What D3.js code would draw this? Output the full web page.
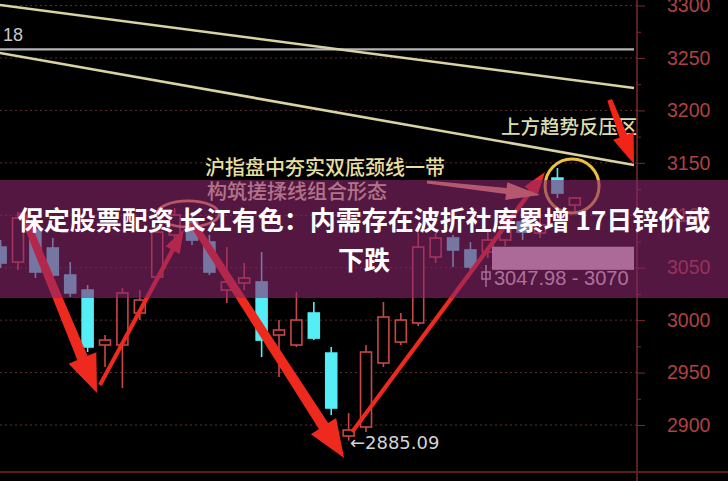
<!DOCTYPE html>
<html><head><meta charset="utf-8">
<script src="https://cdn.jsdelivr.net/npm/d3@7/dist/d3.min.js"></script>
<style>html,body{margin:0;padding:0;background:#000;overflow:hidden}</style>
</head><body><svg id="c" width="728" height="481"></svg>
<script>
// ---- data ----
const candleIndex = d3.range(34);
const open  = [3069.7,3055.4,3085.9,3068.8,3043.0,3028.7,2976.3,2976.3,3006.8,3041.1,3081.2,3093.6,3074.5,3028.7,3035.4,3036.4,2985.8,2976.3,3006.8,2968.6,2889.5,2898.1,2959.1,2979.1,2997.3,3060.2,3078.3,3066.9,3065.0,3076.4,3093.6,3083.1,3135.5,3109.8];
const high  = [3076.4,3103.1,3100.3,3078.3,3055.4,3033.5,2985.8,3030.6,3028.7,3090.7,3106.9,3103.1,3081.2,3069.7,3054.5,3065.0,3000.1,3026.8,3017.3,2974.4,2911.4,2976.3,3017.3,3006.8,3083.1,3083.1,3081.2,3074.5,3084.0,3097.4,3100.3,3097.4,3145.1,3117.4];
const low   = [3049.7,3047.8,3040.2,3036.4,3022.1,2969.6,2955.3,2935.3,3000.1,3036.4,3076.4,3071.6,3043.0,3016.3,3028.7,2964.8,2945.8,2974.4,2981.0,2909.5,2885.09,2893.3,2955.3,2976.3,2994.4,3054.5,3050.7,3047.8,3059.2,3070.7,3076.4,3078.3,3116.5,3102.2];
const close = [3054.5,3097.4,3045.9,3043.0,3025.9,2974.4,2981.0,3025.9,3019.2,3084.0,3100.3,3076.4,3045.9,3036.4,3040.2,2981.0,2990.6,3000.1,2982.9,2916.2,2895.2,2969.6,3003.0,3000.1,3069.7,3078.3,3066.9,3050.7,3076.4,3087.9,3084.0,3090.7,3121.2,3116.5];
const yTicks = [2900, 2950, 3000, 3050, 3100, 3150, 3200, 3250, 3300];
const trendLines = [
  {from:[-0.04, 3300.5], to:[36.4, 3221.4]},
  {from:[-0.04, 3254.8], to:[36.4, 3148.0]}
];
const refLevel = 3258.18;
const rangeBand = {from:28.24, to:36.4, lo:3047.98, hi:3070};
const lowMark = {i:21.11, v:2877.1, label:"2885.09"};
const title = ["保定股票配资 长江有色：内需存在波折社库累增 17日锌价或", "下跌"];
const notes = [
  {text:"沪指盘中夯实双底颈线一带", i:11.75, v:3138.4, size:20, color:"#e6dfa0"},
  {text:"构筑搓揉线组合形态", i:11.86, v:3115.5, size:20, color:"#ece4b4"},
  {text:"上方趋势反压区", i:28.76, v:3177.5, size:19.5, color:"#dcdcae"}
];
// arrows: [index,value] endpoints; kind: thick / thin / peach
const arrows = [
  {from:[1.23,3103.1], to:[5.54,2930.5], kind:"thick"},
  {from:[5.71,2938.2], to:[10.54,3086.9], kind:"thin"},
  {from:[11.0,3093.6], to:[19.74,2868.5], kind:"thick"},
  {from:[20.2,2893.3], to:[31.29,3141.3], kind:"thin"},
  {from:[24.5,3131.7], to:[31.0,3119.4], kind:"peach"},
  {from:[35.0,3210.0], to:[36.4,3148.9], kind:"corner"}
];
const peakRing = {i:10.77, v:3101.3, rx:31, ry:13};
const lastRing = {i:32.84, v:3127.9, r:27};

// ---- scales ----
const W = 728, H = 481, axisX = 637, baseY = 472;
const x = d3.scaleLinear().domain([0, 36.4]).range([0.6, 634]);
const y = d3.scaleLinear().domain([2846.6, 3305.3]).range([481, 0]);
const svg = d3.select("#c");
svg.append("rect").attr("width", W).attr("height", H).attr("fill", "#000");
svg.append("defs").append("clipPath").attr("id", "pc")
  .append("rect").attr("x", 0).attr("y", 0).attr("width", axisX).attr("height", baseY);
const plot = svg.append("g").attr("clip-path", "url(#pc)");

// dotted gridlines
plot.selectAll("line.grid").data(yTicks).join("line")
  .attr("x1", 0).attr("x2", axisX).attr("y1", d => y(d)).attr("y2", d => y(d))
  .attr("stroke", "#5a2e2e").attr("stroke-width", 1).attr("stroke-dasharray", "2,3");

// reference level line
plot.append("line").attr("x1", 0).attr("x2", 634).attr("y1", y(refLevel)).attr("y2", y(refLevel))
  .attr("stroke", "#b4b4b4").attr("stroke-width", 2.2);
plot.append("text").attr("x", 3).attr("y", y(refLevel) - 8).text("18")
  .attr("fill", "#c8c8c8").attr("font-family", "Liberation Sans, Arial").attr("font-size", 18);

// trend lines
plot.selectAll("line.trend").data(trendLines).join("line")
  .attr("x1", d => x(d.from[0])).attr("y1", d => y(d.from[1]))
  .attr("x2", d => x(d.to[0])).attr("y2", d => y(d.to[1]))
  .attr("stroke", "#d9d3a2").attr("stroke-width", 2.6);

// candles
const bw = (x(1) - x(0)) * 0.63;
const RED = "#c84848", CYAN = "#55eef6";
const cg = plot.selectAll("g.candle").data(candleIndex).join("g");
cg.append("line").attr("x1", i => x(i)).attr("x2", i => x(i))
  .attr("y1", i => y(high[i])).attr("y2", i => y(low[i]))
  .attr("stroke", i => close[i] >= open[i] ? RED : CYAN).attr("stroke-width", 1.6);
cg.append("rect").attr("x", i => x(i) - bw / 2).attr("width", bw)
  .attr("y", i => y(Math.max(open[i], close[i])))
  .attr("height", i => Math.max(2, Math.abs(y(open[i]) - y(close[i]))))
  .attr("fill", i => close[i] >= open[i] ? "#000" : CYAN)
  .attr("stroke", i => close[i] >= open[i] ? RED : CYAN).attr("stroke-width", 1.6);

// range band + label
plot.append("rect").attr("x", x(rangeBand.from)).attr("width", x(rangeBand.to) - x(rangeBand.from))
  .attr("y", y(rangeBand.hi)).attr("height", y(rangeBand.lo) - y(rangeBand.hi)).attr("fill", "#dccfdc");
const lblY = y(3033.5);
plot.append("line").attr("x1", x(rangeBand.from) - 6).attr("x2", x(rangeBand.from) - 6)
  .attr("y1", lblY - 20).attr("y2", lblY + 2).attr("stroke", "#d8d0d8").attr("stroke-width", 1.5);
plot.append("rect").attr("x", x(rangeBand.from) - 10).attr("y", lblY - 13).attr("width", 8).attr("height", 7)
  .attr("fill", "none").attr("stroke", "#d8d0d8").attr("stroke-width", 1.5);
plot.append("text").attr("x", x(rangeBand.from) + 2).attr("y", lblY)
  .text(rangeBand.lo + " - " + rangeBand.hi)
  .attr("fill", "#e4dce4").attr("font-family", "Liberation Sans, Arial").attr("font-size", 20);

// low mark
plot.append("text").attr("x", x(lowMark.i) - 18).attr("y", y(lowMark.v)).text("←" + lowMark.label)
  .attr("fill", "#d4d4d4").attr("font-family", "DejaVu Sans, Liberation Sans").attr("font-size", 18);

// rings
plot.append("ellipse").attr("cx", x(peakRing.i)).attr("cy", y(peakRing.v))
  .attr("rx", peakRing.rx).attr("ry", peakRing.ry)
  .attr("fill", "none").attr("stroke", "#ff9a60").attr("stroke-width", 2.6);
plot.append("circle").attr("cx", x(lastRing.i)).attr("cy", y(lastRing.v)).attr("r", lastRing.r)
  .attr("fill", "none").attr("stroke", "#eec040").attr("stroke-width", 3);

// notes
plot.selectAll("text.note").data(notes).join("text")
  .attr("x", d => x(d.i)).attr("y", d => y(d.v)).text(d => d.text)
  .attr("fill", d => d.color).attr("font-size", d => d.size)
  .attr("font-family", "Noto Sans CJK SC").attr("font-weight", 500);

// arrows
const style = {
  thick:{w0:7, w1:11, hw:30, hl:38, color:"#ee2a1e"},
  thin:{w0:4, w1:4.5, hw:16, hl:24, color:"#ee2a1e"},
  peach:{w0:3, w1:6, hw:18, hl:34, color:"#f2a474"},
  corner:{w0:5, w1:8, hw:22, hl:30, color:"#f22418"}
};
function arrowPath(d) {
  const s = style[d.kind];
  const p0 = [x(d.from[0]), y(d.from[1])], p1 = [x(d.to[0]), y(d.to[1])];
  const dx = p1[0] - p0[0], dy = p1[1] - p0[1], L = Math.hypot(dx, dy);
  const u = [dx / L, dy / L], n = [-u[1], u[0]];
  const nk = [p1[0] - u[0] * s.hl, p1[1] - u[1] * s.hl];
  const pt = (b, k) => [b[0] + n[0] * k, b[1] + n[1] * k];
  const pts = [pt(p0, s.w0 / 2), pt(nk, s.w1 / 2), pt(nk, s.hw / 2), p1, pt(nk, -s.hw / 2), pt(nk, -s.w1 / 2), pt(p0, -s.w0 / 2)];
  return "M" + pts.map(p => p.join(",")).join("L") + "Z";
}
plot.selectAll("path.arrow").data(arrows).join("path")
  .attr("d", arrowPath).attr("fill", d => style[d.kind].color);

// axis
svg.append("line").attr("x1", axisX).attr("x2", axisX).attr("y1", 0).attr("y2", H)
  .attr("stroke", "#7a2a2a").attr("stroke-width", 1.5);
svg.append("line").attr("x1", 0).attr("x2", W).attr("y1", baseY).attr("y2", baseY)
  .attr("stroke", "#5e1c1c").attr("stroke-width", 2);
const ax = svg.append("g").attr("transform", `translate(${axisX},0)`)
  .call(d3.axisRight(y).tickValues(yTicks).tickSize(8).tickPadding(22).tickFormat(d3.format("d")));
ax.select(".domain").remove();
ax.selectAll("line").attr("stroke", "#7a2a2a");
ax.selectAll("text").attr("fill", "#ad4242").attr("font-size", 19.5)
  .attr("font-family", "Liberation Sans, Arial");
const minor = yTicks.slice(0, -1).map(v => v + 25);
svg.append("g").attr("transform", `translate(${axisX},0)`)
  .call(d3.axisRight(y).tickValues(minor).tickSize(4).tickFormat(""))
  .call(g => g.select(".domain").remove())
  .selectAll("line").attr("stroke", "#7a2a2a");

// overlay banner + title
svg.append("rect").attr("x", 0).attr("y", 180).attr("width", W).attr("height", 118)
  .attr("fill", "rgb(140,38,108)").attr("fill-opacity", 0.6);
svg.selectAll("text.title").data(title).join("text")
  .attr("x", 364).attr("y", (d, k) => 230 + k * 40).attr("text-anchor", "middle")
  .text(d => d).attr("fill", "#fff").attr("font-size", 26).attr("font-weight", 700)
  .attr("font-family", "Noto Sans CJK SC");
</script></body></html>
